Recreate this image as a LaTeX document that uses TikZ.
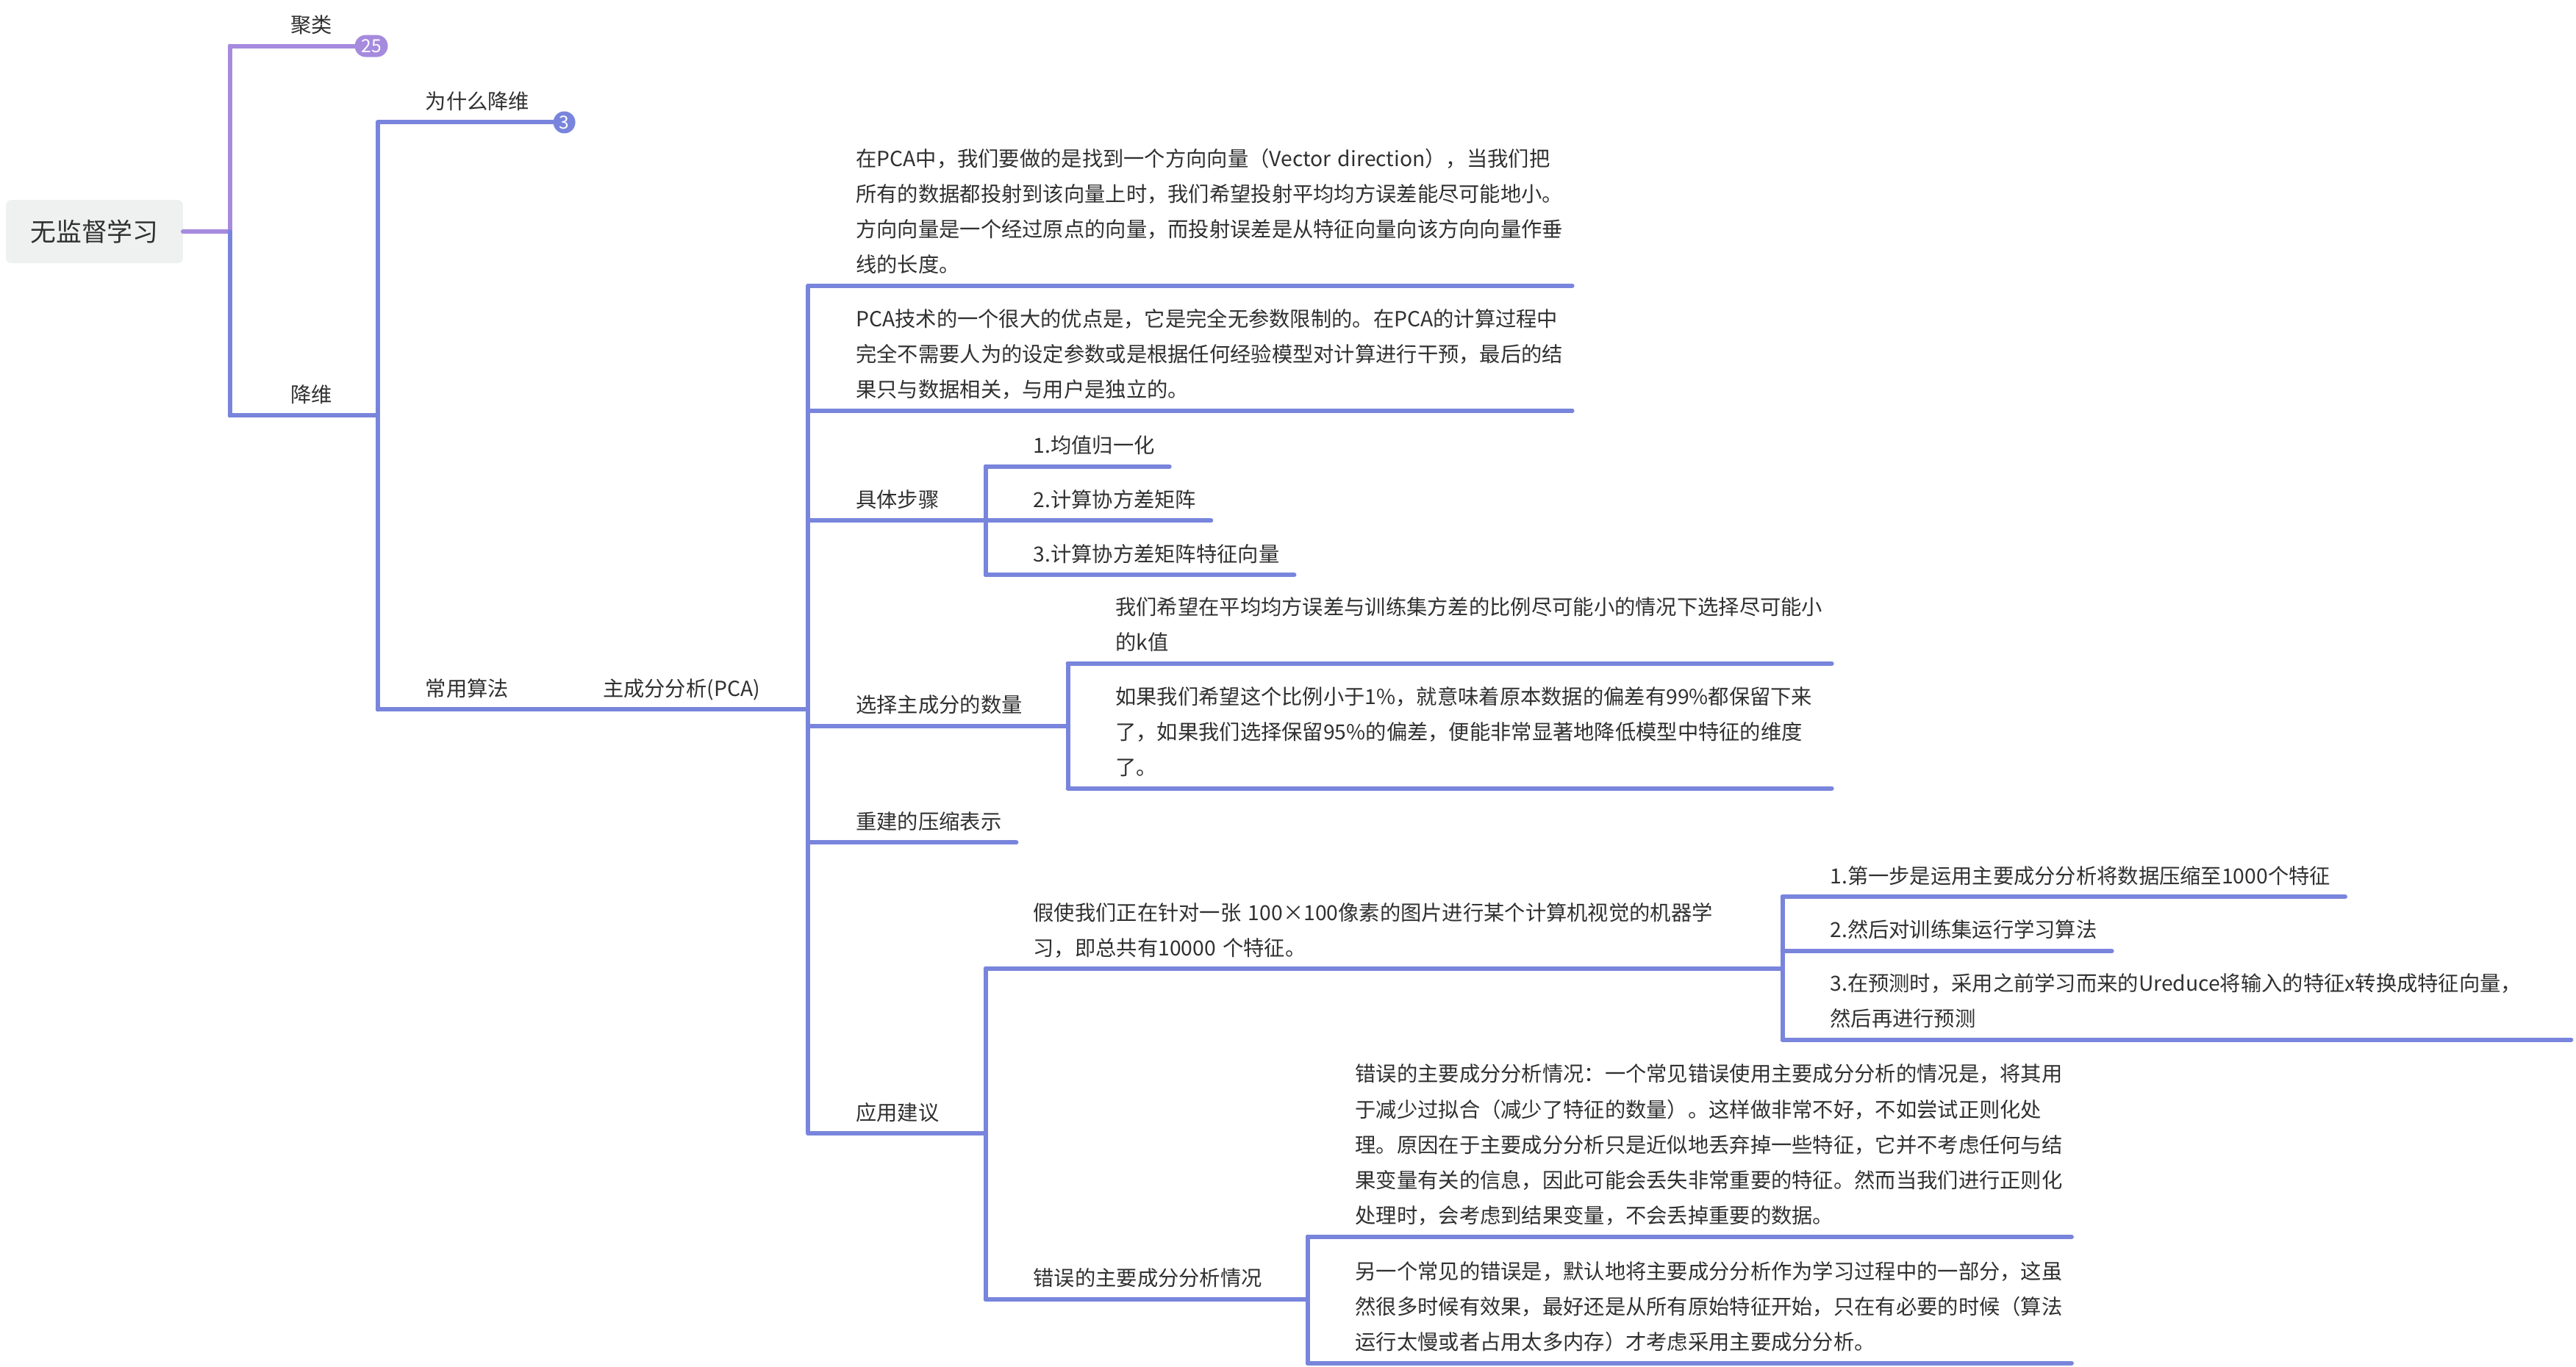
\documentclass[tikz,border=0pt]{standalone}
\usepackage{fontspec}
\setmainfont{Noto Sans CJK SC}
\usepackage{tikz}

\definecolor{branchblue}{RGB}{121,133,220}
\definecolor{branchviolet}{RGB}{166,138,222}
\definecolor{ink}{RGB}{48,48,48}
\definecolor{rootgray}{RGB}{239,240,240}

\newcommand\topicfont{\fontsize{8.05pt}{13.73pt}\selectfont}
\newcommand\rootfont{\fontsize{9.9pt}{12pt}\selectfont}
\newcommand\countfont{\fontsize{7pt}{8pt}\selectfont}
\newcommand\tstrut{\rule[-0.2em]{0pt}{0.9em}}

\begin{document}
\begin{tikzpicture}[x=0.2235mm, y=-0.2235mm,
    topic/.style={anchor=south west, outer sep=0, inner xsep=6.48mm, inner ysep=1.23mm,
        align=left, text=ink, font=\topicfont,
        execute at begin node=\tstrut, execute at end node=\tstrut},
    first/.style={topic, inner xsep=8.27mm},
    para/.style={topic, text width=95.43mm},
    rootbox/.style={fill=rootgray, rounded corners=0.7mm, minimum width=24.1mm,
        minimum height=8.6mm, text=ink, font=\rootfont, outer sep=0},
    count/.style={text=white, font=\countfont, inner sep=0, minimum height=3mm},
    branch/.style={draw=branchblue, line width=0.6mm, line cap=round},
    violetline/.style={branch, draw=branchviolet},
    elbow/.style={to path={-| (\tikztotarget)}},
    leafline/.style={shorten >=4.47mm}]
    \useasboundingbox (0,0) rectangle (1568,832);

    % Nodes {root, first level, second level, ...}
    \node [rootbox]                 (root)  at (57.5,141)  {无监督学习};
    \node [first]                   (clus)  at (140,28)    {聚类};
    \node [count, fill=branchviolet, minimum width=4.5mm, rounded corners=1.5mm]
                                    (clusn) at (226,28)    {25};
    \node [first]                   (dim)   at (140,253)   {降维};
    \node [topic]                   (why)   at (230,74.5)  {为什么降维};
    \node [count, circle, fill=branchblue, minimum size=3mm]
                                    (whyn)  at (343.5,74.5) {3};
    \node [topic]                   (algo)  at (230,432)   {常用算法};
    \node [topic]                   (pca)   at (338,432)   {主成分分析(PCA)};

    % PCA
    \node [para]  (idea)  at (492,174) {\mbox{在PCA中，我们要做的是找到一个方向向量（Vector direction），当我们把}\\
        所有的数据都投射到该向量上时，我们希望投射平均均方误差能尽可能地小。\\
        方向向量是一个经过原点的向量，而投射误差是从特征向量向该方向向量作垂\\
        线的长度。};
    \node [para]  (merit) at (492,250) {PCA技术的一个很大的优点是，它是完全无参数限制的。在PCA的计算过程中\\
        完全不需要人为的设定参数或是根据任何经验模型对计算进行干预，最后的结\\
        果只与数据相关，与用户是独立的。};
    \node [topic] (steps)   at (492,317) {具体步骤};
    \node [topic] (s1)      at (600,284) {1.均值归一化};
    \node [topic] (s2)      at (600,317) {2.计算协方差矩阵};
    \node [topic] (s3)      at (600,350) {3.计算协方差矩阵特征向量};
    \node [topic] (choose)  at (492,442) {选择主成分的数量};
    \node [para]  (k1)      at (650,404) {我们希望在平均均方误差与训练集方差的比例尽可能小的情况下选择尽可能小\\
        的k值};
    \node [para]  (k2)      at (650,480) {如果我们希望这个比例小于1\%，就意味着原本数据的偏差有99\%都保留下来\\
        了，如果我们选择保留95\%的偏差，便能非常显著地降低模型中特征的维度\\
        了。};
    \node [topic] (rebuild) at (492,513) {重建的压缩表示};
    \node [topic] (apply)   at (492,690) {应用建议};
    \node [para]  (ex)      at (600,590) {\mbox{假使我们正在针对一张 100×100像素的图片进行某个计算机视觉的机器学}\\
        习，即总共有10000 个特征。};
    \node [topic] (e1)      at (1085,546) {1.第一步是运用主要成分分析将数据压缩至1000个特征};
    \node [topic] (e2)      at (1085,579) {2.然后对训练集运行学习算法};
    \node [topic, text width=98.79mm] (e3) at (1085,633) {\mbox{3.在预测时，采用之前学习而来的Ureduce将输入的特征x转换成特征向量，}\\
        然后再进行预测};
    \node [topic] (wrong)   at (600,791) {错误的主要成分分析情况};
    \node [para]  (w1)      at (796,753) {错误的主要成分分析情况：一个常见错误使用主要成分分析的情况是，将其用\\
        于减少过拟合（减少了特征的数量）。这样做非常不好，不如尝试正则化处\\
        理。原因在于主要成分分析只是近似地丢弃掉一些特征，它并不考虑任何与结\\
        果变量有关的信息，因此可能会丢失非常重要的特征。然而当我们进行正则化\\
        处理时，会考虑到结果变量，不会丢掉重要的数据。};
    \node [para]  (w2)      at (796,830) {另一个常见的错误是，默认地将主要成分分析作为学习过程中的一部分，这虽\\
        然很多时候有效果，最好还是从所有原始特征开始，只在有必要的时候（算法\\
        运行太慢或者占用太多内存）才考虑采用主要成分分析。};

    % Paths
    \path [violetline] (root.east) edge [elbow] (clus.south west);
    \path [violetline] (clus.south west) edge (clusn);
    \path [branch] (root.east -| dim.south west) edge (dim.south west);
    \path [branch] (dim.south west) edge [elbow] (why.south west)
                                    edge [elbow] (algo.south west);
    \path [branch] (why.south west) edge (whyn);
    \path [branch] (algo.south west) edge [elbow] (pca.south west);
    \foreach \c in {idea,merit,steps,choose,rebuild,apply}
        \path [branch] (pca.south west) edge [elbow] (\c.south west);
    \foreach \c in {s1,s2,s3}
        \path [branch] (steps.south west) edge [elbow] (\c.south west);
    \foreach \c in {k1,k2}
        \path [branch] (choose.south west) edge [elbow] (\c.south west);
    \foreach \c in {ex,wrong}
        \path [branch] (apply.south west) edge [elbow] (\c.south west);
    \foreach \c in {e1,e2,e3}
        \path [branch] (ex.south west) edge [elbow] (\c.south west);
    \foreach \c in {w1,w2}
        \path [branch] (wrong.south west) edge [elbow] (\c.south west);

    % leaf underlines
    \foreach \n in {idea,merit,s1,s2,s3,k1,k2,rebuild,e1,e2,e3,w1,w2}
        \path [branch] (\n.south west) edge [leafline] (\n.south east);

\end{tikzpicture}
\end{document}
